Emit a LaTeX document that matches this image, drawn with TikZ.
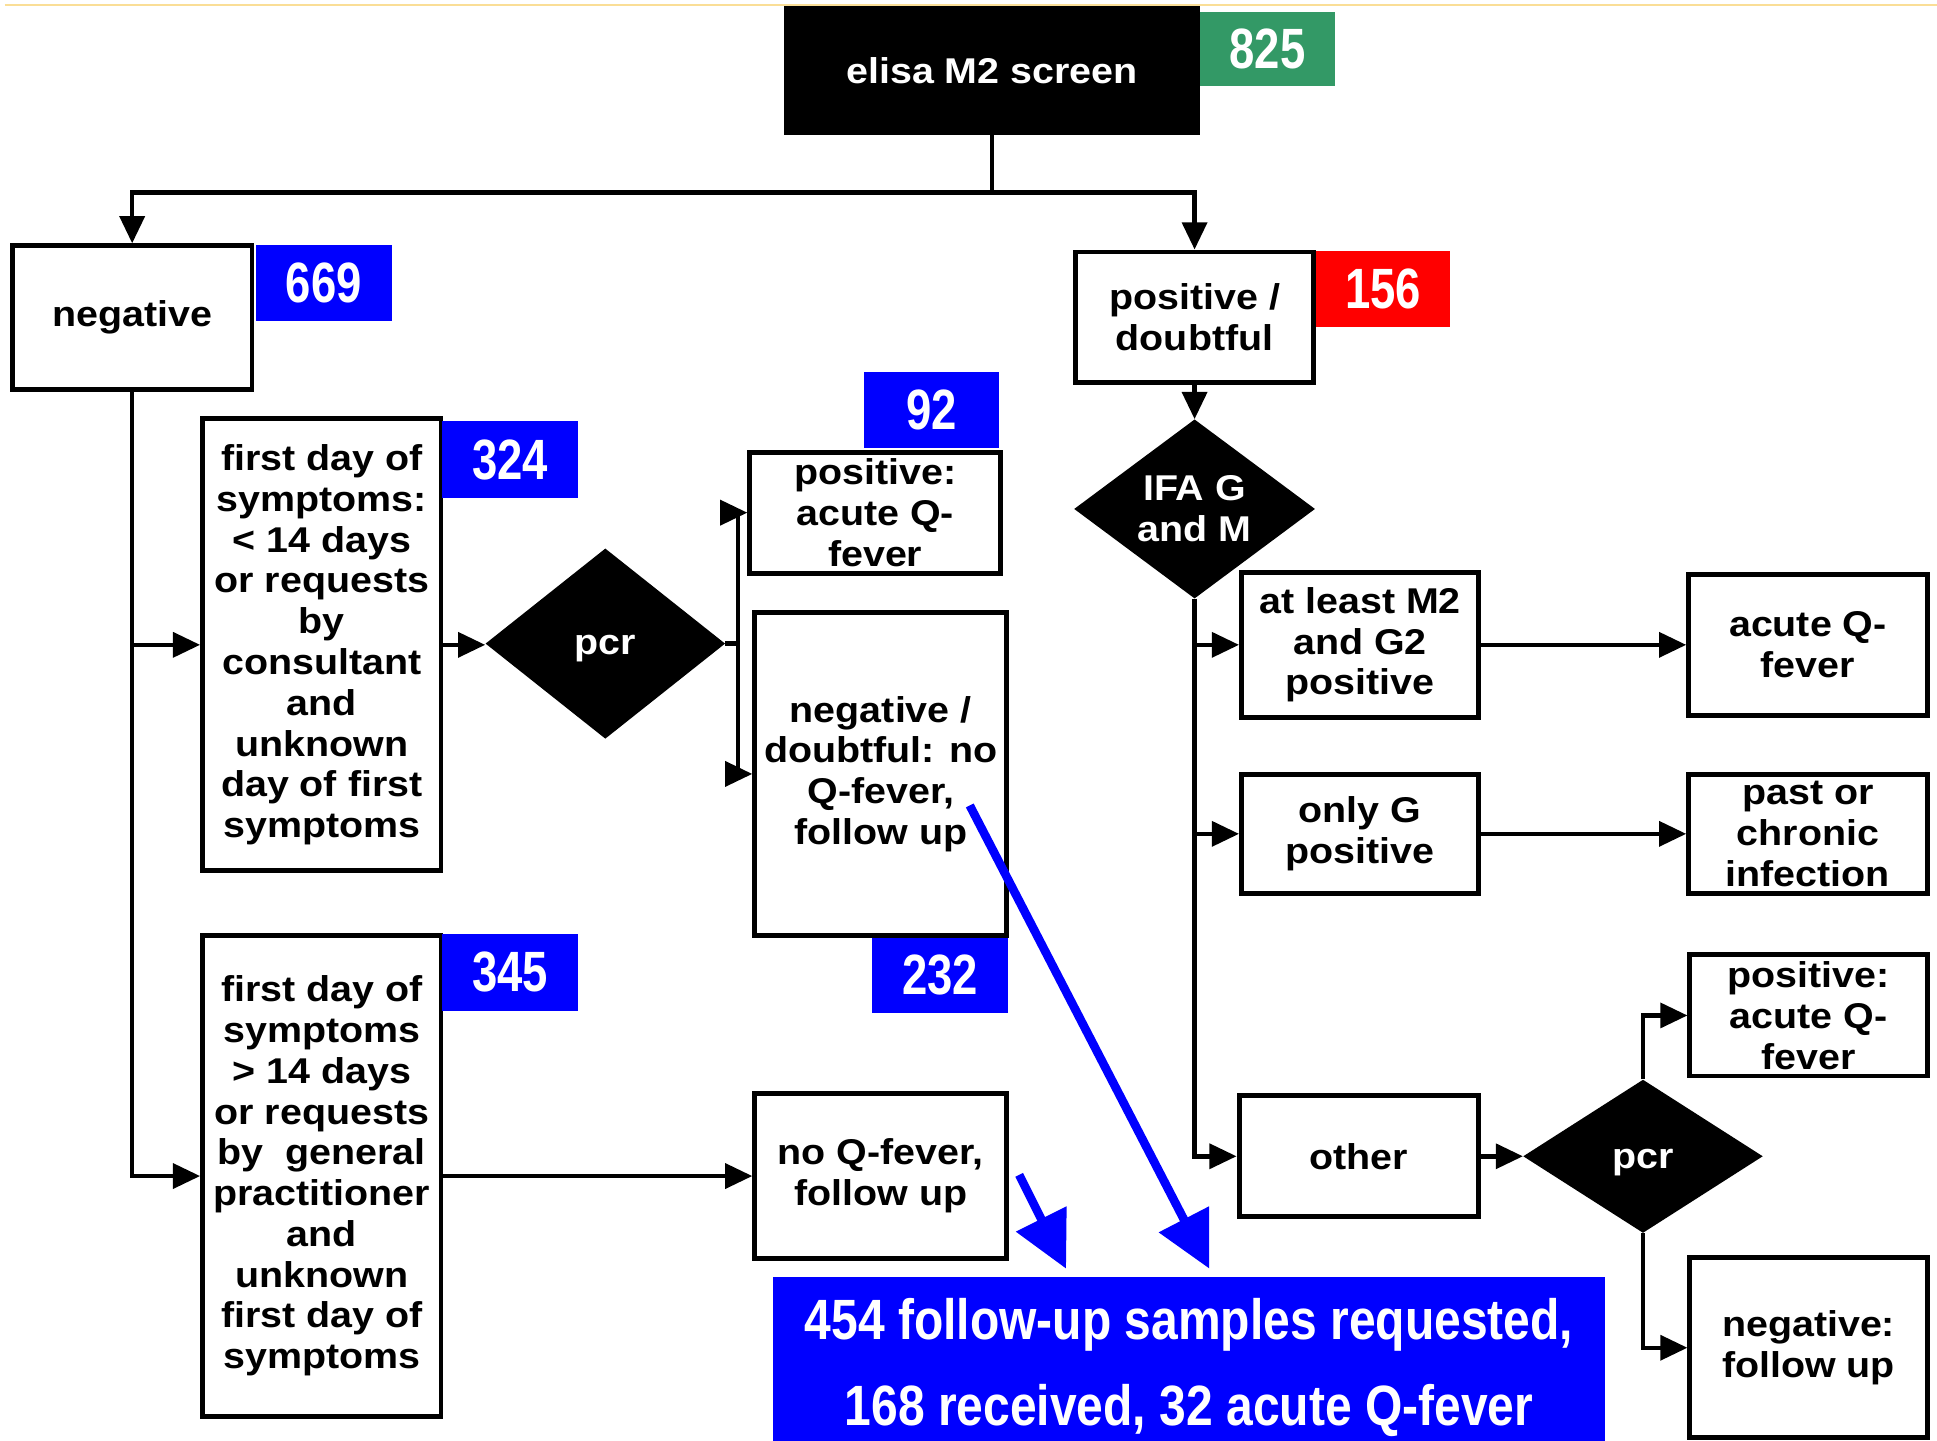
\documentclass[tikz,border=0pt]{standalone}
\usepackage{fontspec}
\usetikzlibrary{shapes.geometric,arrows.meta}
\newfontfamily\boxfont{Liberation Sans}[FakeStretch=1.1]
\newfontfamily\numfont{Liberation Sans}[FakeStretch=0.8]
\newfontfamily\bigfont{Liberation Sans}[FakeStretch=0.845]
\definecolor{nblue}{RGB}{0,0,255}
\definecolor{nred}{RGB}{255,0,0}
\definecolor{ngreen}{RGB}{51,153,102}
\definecolor{topline}{RGB}{250,222,150}
\begin{document}
\begin{tikzpicture}[x=1pt,y=-1pt,
  box/.style={draw=black, line width=4pt, fill=white, inner sep=0pt, align=center,
    font={\boxfont\bfseries\fontsize{29}{33}\selectfont}},
  blackbox/.style={box, fill=black, text=white},
  dia/.style={diamond, fill=black, text=white, inner sep=0pt, align=center, aspect=1.3,
    font={\boxfont\bfseries\fontsize{29}{33}\selectfont}},
  num/.style={inner sep=0pt, text=white, font={\numfont\bfseries\fontsize{46}{50}\selectfont}},
  conn/.style={line width=3.6pt, -{Triangle[length=22pt,width=20pt]}},
  bluearr/.style={draw=nblue, line width=7pt, -{Triangle[length=45pt,width=44pt]}},
]
\useasboundingbox (0,0) rectangle (1568,1166);
\fill[white] (0,0) rectangle (1568,1166);
\draw[topline, line width=2pt] (4,4) -- (1568,4);

% top
\node[blackbox, minimum width=332pt, minimum height=100pt] (elisa) at (803,57) {elisa M2 screen};
\node[num, fill=ngreen, minimum width=110pt, minimum height=60pt] (n825) at (1026,40) {825};

% level 2
\node[box, minimum width=194pt, minimum height=116pt] (neg) at (107,257) {negative};
\node[num, fill=nblue, minimum width=110pt, minimum height=62pt] (n669) at (262,229) {669};
\node[box, minimum width=193pt, minimum height=106pt] (pos) at (967,257) {positive /\\doubtful};
\node[num, fill=nred, minimum width=109pt, minimum height=62pt] (n156) at (1119.5,234) {156};

% left branch
\node[box, minimum width=193pt, minimum height=366pt] (fd1) at (260.5,522)
  {first day of\\symptoms:\\< 14 days\\or requests\\by\\consultant\\and\\unknown\\day of first\\symptoms};
\node[num, fill=nblue, minimum width=110pt, minimum height=62pt] (n324) at (413,372) {324};
\node[dia, minimum width=194pt, minimum height=154pt] (pcr1) at (490,521) {\raisebox{-9pt}[0pt][0pt]{pcr}};
\node[box, minimum width=203pt, minimum height=98pt] (pos1) at (708.5,415) {positive:\\acute Q-\\fever};
\node[num, fill=nblue, minimum width=110pt, minimum height=62pt] (n92) at (754,332) {92};
\node[box, minimum width=204pt, minimum height=261pt] (negdf) at (713,626.5)
  {negative /\\doubtful: no\\Q-fever,\\follow up};
\node[num, fill=nblue, minimum width=110pt, minimum height=61pt] (n232) at (761,789.5) {232};

\node[box, minimum width=193pt, minimum height=390pt] (fd2) at (260.5,952)
  {first day of\\symptoms\\> 14 days\\or requests\\by\ \ general\\practitioner\\and\\unknown\\first day of\\symptoms};
\node[num, fill=nblue, minimum width=110pt, minimum height=62pt] (n345) at (413,787) {345};
\node[box, minimum width=204pt, minimum height=134pt] (nof) at (713,952) {no Q-fever,\\follow up};

% right branch
\node[dia, minimum width=195pt, minimum height=145pt] (ifa) at (967,412) {IFA G\\and M};
\node[box, minimum width=192pt, minimum height=117pt] (atleast) at (1101,522) {at least M2\\and G2\\positive};
\node[box, minimum width=193pt, minimum height=114pt] (acute) at (1463.5,522) {acute Q-\\fever};
\node[box, minimum width=192pt, minimum height=96pt] (onlyg) at (1101,675) {only G\\positive};
\node[box, minimum width=193pt, minimum height=96pt] (past) at (1463.5,675) {past or\\chronic\\infection};
\node[box, minimum width=194pt, minimum height=98pt] (other) at (1100,936) {other};
\node[dia, minimum width=194pt, minimum height=124pt] (pcr2) at (1330,936) {\raisebox{-10pt}[0pt][0pt]{pcr}};
\node[box, minimum width=192pt, minimum height=98pt] (pos2) at (1464,822) {positive:\\acute Q-\\fever};
\node[box, minimum width=192pt, minimum height=146pt] (neg2) at (1464,1091) {negative:\\follow up};

% summary
\node[fill=nblue, text=white, inner sep=0pt, align=center, minimum width=673pt, minimum height=146pt,
  font={\bigfont\bfseries\fontsize{46}{69}\selectfont}] (big) at (962.5,1107)
  {454 follow-up samples requested,\\168 received, 32 acute Q-fever};

% connectors
\draw[conn] (elisa.south) -- ++(0,47) -| (neg.north);
\draw[conn] (elisa.south) -- ++(0,47) -| (pos.north);
\draw[conn] (neg.south) |- (fd1.west);
\draw[conn] (neg.south) |- (fd2.west);
\draw[conn] (fd1.east) -- (fd1.east -| pcr1.west);
\draw[conn] (pcr1.east) -- ++(10,0) |- (pos1.west);
\draw[conn] (pcr1.east) -- ++(10,0) |- (negdf.west);
\draw[conn] (fd2.east) -- (nof.west);
\draw[conn] (pos.south) -- (ifa.north);
\draw[conn] (ifa.south) |- (atleast.west);
\draw[conn] (ifa.south) |- (onlyg.west);
\draw[conn] (ifa.south) |- (other.west);
\draw[conn] (atleast.east) -- (acute.west);
\draw[conn] (onlyg.east) -- (past.west);
\draw[conn] (other.east) -- (pcr2.west);
\draw[conn] (pcr2.north) |- (pos2.west);
\draw[conn] (pcr2.south) |- (neg2.west);

% blue arrows
\coordinate (a1s) at (785,652);
\coordinate (a1e) at (979,1027);
\coordinate (a2s) at (825,951);
\coordinate (a2e) at (863,1027);
\draw[bluearr] (a1s) -- (a1e);
\draw[bluearr] (a2s) -- (a2e);
\end{tikzpicture}
\end{document}
